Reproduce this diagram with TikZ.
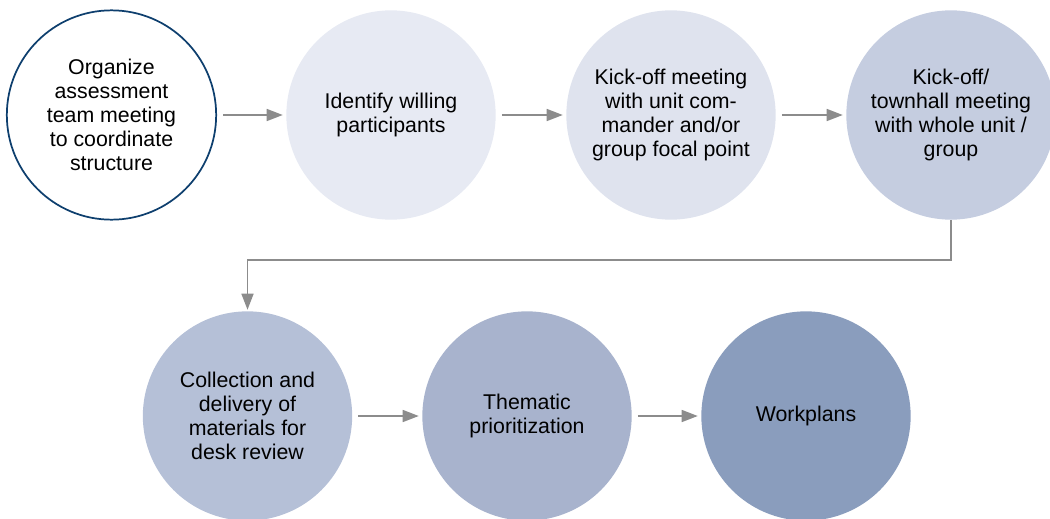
\documentclass[tikz,border=0pt]{standalone}
\usepackage{fontspec}
\setmainfont{Liberation Sans}
\usetikzlibrary{arrows.meta}
\definecolor{ringblue}{HTML}{0E3F6E}
\definecolor{stepA}{HTML}{E7EAF3}
\definecolor{stepB}{HTML}{DFE3EE}
\definecolor{stepC}{HTML}{C5CDE0}
\definecolor{stepD}{HTML}{B5C0D7}
\definecolor{stepE}{HTML}{A8B3CD}
\definecolor{stepF}{HTML}{8A9DBD}
\definecolor{linkgray}{HTML}{8C8C8C}
\begin{document}
\begin{tikzpicture}[x=0.75pt,y=-0.75pt,
  phase/.style={circle,minimum size=157pt,inner sep=0pt,align=center,
    font=\fontsize{16}{18}\selectfont,text=black},
  link/.style={draw=linkgray,line width=1.1pt,
    -{Triangle[length=12pt,width=9pt]},color=linkgray,
    shorten <=4.5pt,shorten >=2.5pt}]
\useasboundingbox (0,0) rectangle (1050,518);
% first row
\node[phase,draw=ringblue,line width=1.3pt,fill=white] (c1) at (111.5,115)
  {Organize\\assessment\\team meeting\\to coordinate\\structure};
\node[phase,fill=stepA] (c2) at (391,115) {Identify willing\\participants};
\node[phase,fill=stepB] (c3) at (671,115)
  {Kick-off meeting\\with unit com-\\mander and/or\\group focal point};
\node[phase,fill=stepC] (c4) at (951,115)
  {Kick-off/\\townhall meeting\\with whole unit /\\group};
% second row
\node[phase,fill=stepD] (c5) at (247.5,416)
  {Collection and\\delivery of\\materials for\\desk review};
\node[phase,fill=stepE] (c6) at (527,416) {Thematic\\prioritization};
\node[phase,fill=stepF] (c7) at (806,416) {Workplans};
% connectors
\draw[link] (c1) -- (c2);
\draw[link] (c2) -- (c3);
\draw[link] (c3) -- (c4);
\coordinate (turn) at (951,260);
\draw[link,shorten <=0pt,shorten >=1pt] (c4.south) -- (turn) -| (c5.north);
\draw[link] (c5) -- (c6);
\draw[link] (c6) -- (c7);
\end{tikzpicture}
\end{document}
